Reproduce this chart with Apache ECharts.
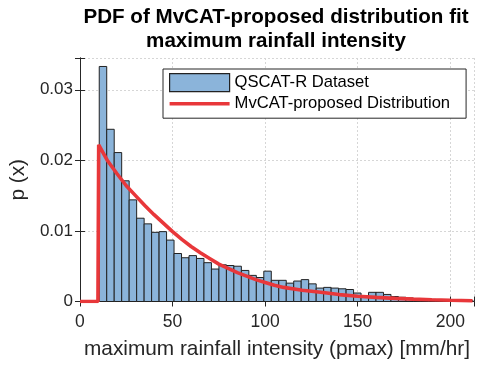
<!DOCTYPE html>
<html>
<head>
<meta charset="utf-8">
<script src="https://cdn.jsdelivr.net/npm/echarts@6/dist/echarts.min.js"></script>
<style>
  html, body { margin: 0; padding: 0; background: #fff; }
  #chart { width: 478px; height: 370px; }
</style>
</head>
<body>
<div id="chart"></div>
<script>
// Histogram bins (density-normalised) of maximum rainfall intensity
const binStart = 10.4;
const binWidth = 4.04;
const binDensity = [
  0.0333, 0.0244, 0.0211, 0.0171, 0.0144, 0.0118, 0.0110, 0.0098, 0.0099, 0.0087,
  0.0068, 0.0062, 0.0065, 0.0061, 0.0055, 0.0046, 0.0052, 0.0051, 0.0050, 0.0044,
  0.0037, 0.0034, 0.0043, 0.0030, 0.0030, 0.0026, 0.0029, 0.0031, 0.0025, 0.0019,
  0.0020, 0.0019, 0.0018, 0.0017, 0.0012, 0.0008, 0.0013, 0.0013, 0.0010, 0.0007,
  0.0006, 0.0005, 0.0004, 0.00035, 0.0003, 0.00025, 0.0002, 0.00015, 0.0001, 0.0001
];

// Fitted probability density curve
const curveX = [0, 9.7, 10.1, 15, 20, 25, 30, 35, 40, 45, 50, 55, 60, 65, 70, 75, 80, 85, 90, 95,
  100, 105, 110, 120, 130, 140, 150, 160, 170, 180, 190, 200, 212];
const curveY = [0, 0, 0.0222, 0.0199, 0.0181, 0.0164, 0.0150, 0.0136, 0.0123, 0.0111, 0.0099,
  0.0088, 0.0078, 0.0069, 0.0061, 0.0053, 0.0047, 0.0041, 0.0036, 0.0031, 0.0027, 0.0023,
  0.0020, 0.0016, 0.0013, 0.00098, 0.00075, 0.00058, 0.00044, 0.00033, 0.00024, 0.00017, 0.00011];

const xTicks = [0, 50, 100, 150, 200];
const yTicks = [0, 0.01, 0.02, 0.03];

const histName = 'QSCAT-R Dataset';
const fitName = 'MvCAT-proposed Distribution';

const barFill = '#8bb4da';
const barEdge = '#222222';
const fitColor = '#e8373a';
const axisColor = '#262626';
const fontFamily = 'Liberation Sans, Arial, sans-serif';

const histData = binDensity.map((d, i) => [binStart + i * binWidth, binStart + (i + 1) * binWidth, d]);
const curveData = curveX.map((x, i) => [x, curveY[i]]);

const xMin = 0, xMax = 212.8, yMin = 0, yMax = 0.0345;

function tickFmt(list) {
  return function (v) {
    for (const t of list) if (Math.abs(v - t) < 1e-9) return String(t);
    return '';
  };
}

const chart = echarts.init(document.getElementById('chart'), null, { renderer: 'canvas' });

const baseAxisLine = { show: true, lineStyle: { color: axisColor, width: 1 } };
const dottedGrid = { show: true, lineStyle: { color: '#d6d6d6', type: [2, 2], width: 1 } };

chart.setOption({
  animation: false,
  backgroundColor: '#fff',
  textStyle: { fontFamily: fontFamily },
  title: {
    text: 'PDF of MvCAT-proposed distribution fit\nmaximum rainfall intensity',
    left: 276,
    top: 5,
    padding: 0,
    textAlign: 'center',
    textStyle: { fontSize: 20.6, fontWeight: 'bold', color: '#000', lineHeight: 24, fontFamily: fontFamily }
  },
  grid: { left: 77.7, right: 4, top: 58, bottom: 68.5, show: false },
  legend: {
    orient: 'vertical',
    left: 163,
    top: 69,
    padding: [4, 16, 6, 6],
    itemGap: 3,
    itemWidth: 60,
    itemHeight: 18,
    backgroundColor: '#fff',
    borderColor: axisColor,
    borderWidth: 1,
    textStyle: { fontSize: 16.6, color: '#000', fontFamily: fontFamily },
    data: [
      { name: histName, icon: 'rect', itemStyle: { color: barFill, borderColor: barEdge, borderWidth: 1.2 } },
      { name: fitName, icon: 'path://M0,0H60V3.6H0Z', symbolKeepAspect: true, itemStyle: { color: fitColor, borderWidth: 0 } }
    ]
  },
  xAxis: [
    {
      type: 'value', min: xMin, max: xMax, interval: 50, position: 'bottom',
      axisLine: baseAxisLine,
      axisTick: { show: true, inside: true, length: 5, lineStyle: { color: axisColor } },
      axisLabel: { formatter: tickFmt(xTicks), fontSize: 17.5, color: axisColor, margin: 12, fontFamily: fontFamily },
      splitLine: dottedGrid,
      name: 'maximum rainfall intensity (pmax) [mm/hr]',
      nameLocation: 'middle',
      nameGap: 37,
      nameTextStyle: { fontSize: 20.8, color: axisColor, fontFamily: fontFamily }
    },
    {
      type: 'value', min: xMin, max: xMax, interval: 50, position: 'top',
      axisLine: baseAxisLine,
      axisTick: { show: true, inside: true, length: 5, lineStyle: { color: axisColor } },
      axisLabel: { show: false },
      splitLine: { show: false }
    }
  ],
  yAxis: [
    {
      type: 'value', min: yMin, max: yMax, interval: 0.01, position: 'left',
      axisLine: baseAxisLine,
      axisTick: { show: true, inside: true, length: 5, lineStyle: { color: axisColor } },
      axisLabel: { formatter: tickFmt(yTicks), fontSize: 17, color: axisColor, margin: 7, fontFamily: fontFamily },
      splitLine: dottedGrid,
      name: 'p (x)',
      nameLocation: 'middle',
      nameGap: 48,
      nameTextStyle: { fontSize: 20.8, color: axisColor, fontFamily: fontFamily }
    },
    {
      type: 'value', min: yMin, max: yMax, interval: 0.01, position: 'right',
      axisLine: baseAxisLine,
      axisTick: { show: true, inside: true, length: 5, lineStyle: { color: axisColor } },
      axisLabel: { show: false },
      splitLine: { show: false }
    }
  ],
  series: [
    {
      name: histName,
      type: 'custom',
      xAxisIndex: 0,
      yAxisIndex: 0,
      z: 2,
      itemStyle: { color: barFill, borderColor: barEdge, borderWidth: 1 },
      encode: { x: [0, 1], y: 2 },
      data: histData,
      renderItem: function (params, api) {
        const p0 = api.coord([api.value(0), api.value(2)]);
        const p1 = api.coord([api.value(1), 0]);
        return {
          type: 'rect',
          shape: { x: p0[0], y: p0[1], width: p1[0] - p0[0], height: p1[1] - p0[1] },
          style: { fill: barFill, stroke: barEdge, lineWidth: 1 }
        };
      }
    },
    {
      name: fitName,
      type: 'line',
      xAxisIndex: 0,
      yAxisIndex: 0,
      z: 3,
      data: curveData,
      smooth: false,
      showSymbol: false,
      symbol: 'none',
      lineStyle: { color: fitColor, width: 3.6 },
      itemStyle: { color: fitColor }
    }
  ]
});
</script>
</body>
</html>
